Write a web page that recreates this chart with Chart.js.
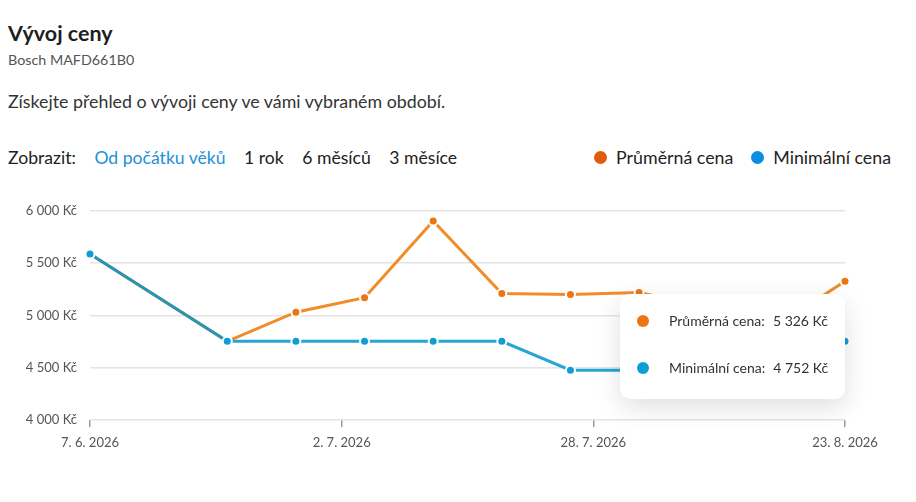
<!DOCTYPE html>
<html lang="cs">
<head>
<meta charset="utf-8">
<title>Vývoj ceny</title>
<script src="https://cdn.jsdelivr.net/npm/chart.js@4.4.1/dist/chart.umd.min.js"></script>
<style>
  body { margin: 0; background: #fff; font-family: Lato, "Noto Sans", sans-serif; color: #222; }
  .page { position: relative; width: 916px; height: 502px; overflow: hidden; }
  .abs { position: absolute; white-space: nowrap; }
  .title { left: 8px; top: 20px; font-size: 21.5px; font-weight: 700; color: #1e1e1e; }
  .sub { left: 8px; top: 51px; font-size: 14.3px; color: #555; }
  .desc { left: 8px; top: 90px; font-size: 17.8px; color: #333; }
  .filters { left: 8px; top: 147px; font-size: 17.6px; color: #222; }
  .filters span { margin-right: 18.5px; }
  .filters .on { color: #1f8fd8; }
  .legend { right: 25px; top: 146px; font-size: 17.8px; color: #222; display: flex; align-items: center; }
  .legend .item { display: flex; align-items: center; margin-left: 18px; }
  .legend .dot { width: 13px; height: 13px; border-radius: 50%; margin-right: 9px; }
  .chart-box { position: absolute; left: 0; top: 190px; width: 916px; height: 270px; }
  #tip { position: absolute; box-sizing: border-box; width: 225px; background: #fff; border-radius: 10px;
         box-shadow: 0 8px 26px rgba(0,0,0,0.13); padding: 3px 17px 8px 17px; font-size: 14px; color: #333;
         pointer-events: none; display: none; white-space: nowrap; }
  #tip .row { display: flex; align-items: center; height: 47px; }
  #tip .dot { width: 12px; height: 12px; border-radius: 50%; margin-right: 20px; flex: none; }
  #tip .name { flex: none; }
  #tip .val { flex: 1; text-align: right; margin-left: 8px; }
</style>
</head>
<body>
<div class="page">
  <div class="abs title">Vývoj ceny</div>
  <div class="abs sub">Bosch MAFD661B0</div>
  <div class="abs desc">Získejte přehled o vývoji ceny ve vámi vybraném období.</div>
  <div class="abs filters"><span>Zobrazit:</span><span class="on">Od počátku věků</span><span>1 rok</span><span>6 měsíců</span><span>3 měsíce</span></div>
  <div class="abs legend" id="legend"></div>
  <div class="chart-box"><canvas id="chart"></canvas></div>
  <div id="tip"></div>
</div>
<script>
  // weekly price snapshots
  const dates = ['2026-06-07', '2026-06-21', '2026-06-28', '2026-07-05', '2026-07-12', '2026-07-19',
    '2026-07-26', '2026-08-02', '2026-08-09', '2026-08-16', '2026-08-23'];
  const avgPrice = [5587, 4752, 5031, 5169, 5902, 5210, 5200, 5219, 5080, 4900, 5326];
  const minPrice = [5587, 4752, 4752, 4752, 4752, 4752, 4476, 4476, 4476, 4476, 4752];
  const seriesNames = ['Průměrná cena', 'Minimální cena'];
  const yTicks = [4000, 4500, 5000, 5500, 6000];

  const colors = {
    avgLine: '#f28c2a',
    avgPoint: '#ec7512',
    avgLegend: '#e15b0c',
    minLine: 'rgba(1, 150, 206, 0.85)',
    minPoint: '#0f9dd4',
    minLegend: '#0d8de0',
  };

  const toMs = (d) => Date.parse(d + 'T00:00:00Z');
  const formatKc = (v) => Math.round(v).toString().replace(/\B(?=(\d{3})+(?!\d))/g, ' ') + ' Kč';
  const formatDate = (ms) => {
    const d = new Date(ms);
    return d.getUTCDate() + '. ' + (d.getUTCMonth() + 1) + '. ' + d.getUTCFullYear();
  };

  const legend = document.getElementById('legend');
  [colors.avgLegend, colors.minLegend].forEach((c, i) => {
    const item = document.createElement('div');
    item.className = 'item';
    item.innerHTML = `<span class="dot" style="background:${c}"></span>${seriesNames[i]}`;
    legend.appendChild(item);
  });

  const tipEl = document.getElementById('tip');
  const externalTooltip = (context) => {
    const { chart, tooltip } = context;
    if (tooltip.opacity === 0) {
      tipEl.style.display = 'none';
      return;
    }
    const rows = tooltip.dataPoints.slice().sort((a, b) => a.datasetIndex - b.datasetIndex).map((p) => {
      const ds = chart.data.datasets[p.datasetIndex];
      return `<div class="row"><span class="dot" style="background:${ds.pointBackgroundColor}"></span>` +
        `<span class="name">${ds.label}:</span><span class="val">${formatKc(p.parsed.y)}</span></div>`;
    });
    tipEl.innerHTML = rows.join('');
    tipEl.style.display = 'block';
    const box = chart.canvas.parentNode;
    tipEl.style.left = (box.offsetLeft + tooltip.caretX - tipEl.offsetWidth) + 'px';
    tipEl.style.top = (box.offsetTop + tooltip.caretY - 17) + 'px';
  };

  const xMin = toMs(dates[0]);
  const xMax = toMs(dates[dates.length - 1]);
  const tickFont = { family: 'Lato, "Noto Sans", sans-serif', size: 13 };

  const ctx = document.getElementById('chart');
  const chart = new Chart(ctx, {
    type: 'line',
    data: {
      datasets: [
        {
          label: seriesNames[0],
          data: dates.map((d, i) => ({ x: toMs(d), y: avgPrice[i] })),
          borderColor: colors.avgLine,
          borderWidth: 3,
          pointRadius: 4.5,
          pointHoverRadius: 4.5,
          pointBackgroundColor: colors.avgPoint,
          pointBorderColor: '#fff',
          pointBorderWidth: 2,
          pointHoverBorderWidth: 2,
          clip: 10,
          order: 2,
        },
        {
          label: seriesNames[1],
          data: dates.map((d, i) => ({ x: toMs(d), y: minPrice[i] })),
          borderColor: colors.minLine,
          borderWidth: 3,
          pointRadius: 4.5,
          pointHoverRadius: 4.5,
          pointBackgroundColor: colors.minPoint,
          pointBorderColor: '#fff',
          pointBorderWidth: 2,
          pointHoverBorderWidth: 2,
          clip: 10,
          order: 1,
        },
      ],
    },
    options: {
      responsive: true,
      maintainAspectRatio: false,
      animation: false,
      layout: {
        padding: { top: 20, right: 71, bottom: 6, left: 0 },
      },
      scales: {
        x: {
          type: 'linear',
          min: xMin,
          max: xMax,
          afterBuildTicks: (scale) => {
            const step = (xMax - xMin) / 3;
            scale.ticks = [0, 1, 2, 3].map((n) => ({ value: xMin + n * step }));
          },
          afterFit: (scale) => { scale.height = 34; },
          ticks: {
            autoSkip: false,
            maxRotation: 0,
            padding: 8,
            color: '#555',
            font: tickFont,
            callback: (value) => formatDate(value),
          },
          grid: {
            drawOnChartArea: false,
            drawTicks: true,
            tickLength: 7,
            color: '#9a9a9a',
            lineWidth: 1.5,
          },
          border: { display: false },
        },
        y: {
          min: 4000,
          max: 6000,
          afterBuildTicks: (scale) => {
            scale.ticks = yTicks.map((v) => ({ value: v }));
          },
          afterFit: (scale) => { scale.width = 90; },
          ticks: {
            padding: 13,
            color: '#555',
            font: tickFont,
            callback: (value) => formatKc(value),
          },
          grid: {
            color: '#e4e4e4',
            lineWidth: 1.5,
            drawTicks: false,
          },
          border: { display: false },
        },
      },
      plugins: {
        legend: { display: false },
        tooltip: {
          enabled: false,
          mode: 'index',
          intersect: false,
          external: externalTooltip,
        },
      },
      interaction: {
        mode: 'index',
        intersect: false,
      },
    },
  });

  const last = dates.length - 1;
  chart.tooltip.setActiveElements([
    { datasetIndex: 0, index: last },
    { datasetIndex: 1, index: last },
  ], { x: 0, y: 0 });
  chart.update();
</script>
</body>
</html>
